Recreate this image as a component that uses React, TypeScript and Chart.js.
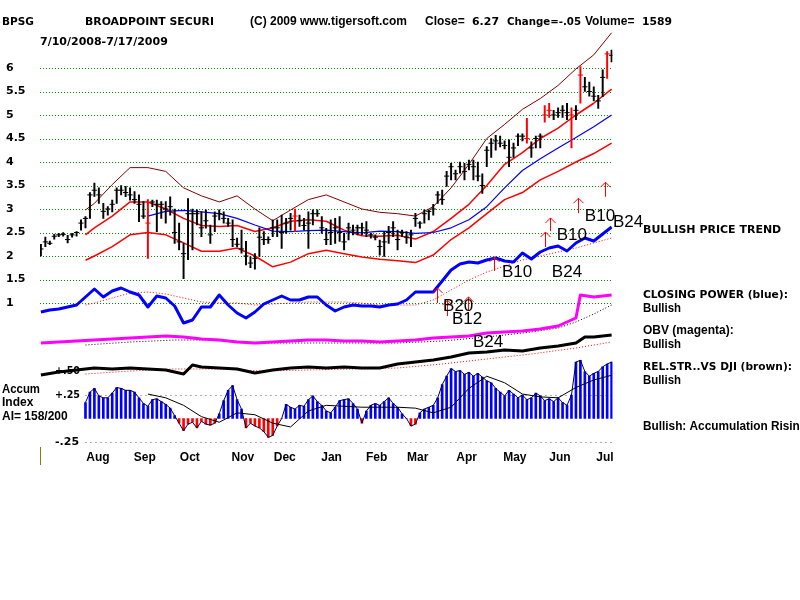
import { useEffect, useRef } from "react";
import { Chart, registerables } from "chart.js";

Chart.register(...registerables);

// ---- Price bars: every second session, 7/10/2008 - 7/17/2009 ----
const highs = [
  2.25, 2.4, 2.32, 2.46, 2.48, 2.5, 2.44, 2.48, 2.52, 2.77,
  2.84, 3.35, 3.55, 3.45, 3.12, 3.05, 3.19, 3.45, 3.5, 3.48,
  3.45, 3.37, 3.3, 3.16, 3.2, 3.19, 3.19, 3.16, 3.16, 3.26,
  3.0, 2.7, 2.27, 3.22, 3.0, 2.98, 2.94, 2.98, 2.66, 2.94,
  2.98, 2.94, 2.8, 2.77, 2.38, 2.55, 2.31, 1.98, 2.05, 2.6,
  2.52, 2.41, 2.77, 2.77, 2.87, 2.8, 2.91, 3.0, 2.87, 2.8,
  2.94, 2.98, 2.98, 2.84, 2.59, 2.77, 2.8, 2.84, 2.48, 2.7,
  2.66, 2.66, 2.7, 2.73, 2.48, 2.45, 2.34, 2.52, 2.63, 2.73,
  2.55, 2.55, 2.52, 2.55, 2.91, 2.73, 2.98, 2.98, 3.1, 3.37,
  3.4, 3.8, 3.97, 3.83, 4.0, 3.97, 4.04, 4.04, 4.0, 3.75,
  4.33, 4.5, 4.57, 4.55, 4.45, 4.47, 4.4, 4.6, 4.6, 4.93,
  4.43, 4.55, 4.6, 5.2, 5.25, 5.1, 5.15, 5.2, 5.25, 5.15,
  5.2, 6.03, 5.8, 5.7, 5.6, 5.42, 5.96, 6.35, 6.38,
];
const lows = [
  2.0, 2.2, 2.24, 2.36, 2.41, 2.42, 2.28, 2.4, 2.42, 2.55,
  2.6, 2.8, 3.27, 3.12, 2.8, 2.87, 2.94, 3.12, 3.3, 3.26,
  3.19, 3.12, 2.73, 2.8, 1.95, 3.05, 2.52, 2.8, 2.7, 2.87,
  2.27, 2.13, 1.52, 1.92, 2.13, 2.66, 2.41, 2.59, 2.27, 2.52,
  2.77, 2.7, 2.63, 2.2, 2.2, 2.06, 1.81, 1.75, 1.72, 1.99,
  2.24, 2.27, 2.41, 2.41, 2.16, 2.48, 2.55, 2.52, 2.63, 2.55,
  2.16, 2.66, 2.84, 2.48, 2.24, 2.24, 2.27, 2.31, 2.13, 2.34,
  2.45, 2.45, 2.45, 2.41, 2.38, 2.34, 2.02, 1.99, 2.27, 2.41,
  2.13, 2.41, 2.27, 2.2, 2.63, 2.59, 2.7, 2.77, 2.87, 3.12,
  3.1, 3.48, 3.62, 3.62, 3.76, 3.62, 3.83, 3.62, 3.6, 3.33,
  3.9, 4.1, 4.25, 4.32, 4.28, 3.9, 4.1, 4.35, 4.45, 4.4,
  4.1, 4.3, 4.3, 4.85, 4.95, 4.9, 4.95, 4.95, 4.9, 4.3,
  4.9, 5.25, 5.5, 5.4, 5.3, 5.14, 5.39, 5.78, 6.13,
];
const closes = [
  2.15, 2.3, 2.27, 2.42, 2.45, 2.46, 2.35, 2.45, 2.5, 2.7,
  2.8, 3.3, 3.4, 3.3, 2.95, 3.0, 3.1, 3.4, 3.4, 3.35,
  3.3, 3.2, 3.1, 2.85, 2.7, 3.15, 3.1, 3.1, 3.0, 3.05,
  2.5, 2.3, 2.05, 2.9, 2.9, 2.9, 2.6, 2.75, 2.45, 2.85,
  2.9, 2.8, 2.7, 2.35, 2.25, 2.15, 2.0, 1.85, 1.95, 2.4,
  2.35, 2.35, 2.6, 2.6, 2.5, 2.7, 2.8, 2.85, 2.75, 2.65,
  2.7, 2.9, 2.9, 2.6, 2.35, 2.5, 2.6, 2.5, 2.3, 2.6,
  2.55, 2.6, 2.6, 2.55, 2.45, 2.4, 2.2, 2.3, 2.5, 2.6,
  2.35, 2.5, 2.4, 2.45, 2.8, 2.7, 2.9, 2.95, 3.0, 3.3,
  3.2, 3.7, 3.9, 3.75, 3.9, 3.8, 3.95, 3.9, 3.7, 3.5,
  4.25, 4.4, 4.45, 4.4, 4.35, 4.1, 4.3, 4.55, 4.55, 4.5,
  4.3, 4.5, 4.55, 5.0, 5.1, 5.0, 5.05, 5.1, 5.05, 5.0,
  5.1, 5.85, 5.6, 5.5, 5.4, 5.3, 5.8, 6.3, 6.27,
];
const redBarDays = [24, 57, 109, 113, 114, 119, 121, 127];

// ---- Bands and moving averages (price units) ----
const bandDays = [10, 12, 16, 20, 24, 28, 32, 36, 40, 44, 48, 52, 56, 60, 64, 68, 72, 76, 80, 84, 88, 92, 96, 100, 104, 108, 112, 116, 120, 124, 128];
const upperBand = [2.98, 3.12, 3.52, 3.88, 3.88, 3.8, 3.45, 3.28, 3.15, 3.28, 3.0, 2.75, 2.98, 3.2, 3.3, 3.15, 3.0, 2.93, 2.9, 2.85, 3.05, 3.45, 3.95, 4.5, 4.8, 5.12, 5.35, 5.63, 5.98, 6.28, 6.75];
const middleBand = [2.45, 2.6, 2.85, 3.15, 3.15, 3.0, 2.8, 2.65, 2.63, 2.65, 2.52, 2.6, 2.74, 2.77, 2.74, 2.55, 2.43, 2.42, 2.44, 2.36, 2.52, 2.8, 3.1, 3.5, 3.95, 4.2, 4.5, 4.72, 5.0, 5.25, 5.55];
const lowerBand = [1.91, 2.0, 2.2, 2.45, 2.5, 2.45, 2.28, 2.1, 2.1, 2.17, 2.0, 1.77, 1.87, 2.05, 2.12, 2.05, 1.98, 1.93, 1.9, 1.86, 2.02, 2.35, 2.6, 2.9, 3.2, 3.35, 3.62, 3.8, 4.0, 4.18, 4.4];
const slowDays = [24, 28, 32, 36, 40, 44, 48, 52, 56, 60, 64, 68, 72, 76, 80, 84, 88, 92, 96, 100, 104, 108, 112, 116, 120, 124, 128];
const slowMA = [2.85, 2.95, 2.97, 2.94, 2.9, 2.8, 2.66, 2.53, 2.52, 2.54, 2.55, 2.52, 2.49, 2.53, 2.52, 2.48, 2.5, 2.6, 2.77, 3.05, 3.45, 3.82, 4.07, 4.3, 4.52, 4.75, 5.0];

// ---- Closing Power (index points, sampled every 2nd bar) ----
const closingPower = [
  18, 20, 21, 23, 25, 33, 41, 33, 39, 42, 38, 35, 23, 34, 32, 24, 7, 10, 23, 23,
  35, 25, 17, 12, 18, 26, 30, 34, 30, 30, 33, 33, 25, 19, 23, 25, 24, 24, 23, 25,
  26, 30, 38, 38, 38, 49, 60, 66, 68, 67, 70, 72, 69, 68, 77, 71, 78, 82, 84, 79,
  87, 92, 89, 96, 103,
];
const cpMaDays = bandDays;
const closingPowerMA = [25, 27, 32, 37, 38, 36, 32, 28, 27, 27, 25, 26, 27, 28, 28, 28, 27, 25, 25, 25, 30, 40, 50, 58, 64, 70, 74, 78, 82, 87, 92];

// ---- On-balance volume ----
const obvDays = [0, 4, 8, 12, 16, 20, 24, 28, 32, 36, 40, 44, 48, 52, 56, 60, 64, 68, 72, 76, 80, 84, 88, 92, 96, 100, 104, 108, 112, 116, 120, 121, 124, 128];
const obv = [7, 8, 9, 10, 11, 12, 13, 14, 13, 11, 10, 8, 7, 8, 9, 10, 10, 9, 9, 8, 9, 10, 12, 13, 14, 17, 18, 19, 21, 24, 32, 55, 53, 55];
const obvMaDays = [10, 20, 30, 40, 50, 60, 70, 80, 90, 100, 110, 116, 120, 124, 128];
const obvMA = [5, 8, 10, 10, 7, 7, 7, 7, 9, 13, 18, 22, 28, 36, 45];

// ---- Relative strength vs DJI ----
const rsDays = [0, 4, 8, 12, 16, 20, 24, 28, 30, 32, 34, 36, 40, 44, 48, 52, 56, 60, 64, 68, 72, 76, 80, 84, 88, 92, 96, 100, 104, 108, 112, 116, 120, 122, 124, 128];
const relStrength = [15, 18, 20, 22, 21, 22, 21, 20, 18, 16, 25, 23, 22, 21, 17, 20, 22, 23, 22, 23, 22, 22, 26, 28, 30, 33, 37, 38, 40, 39, 42, 44, 47, 53, 53, 55];
const rsMaDays = [10, 20, 30, 40, 50, 60, 70, 80, 90, 100, 110, 120, 128];
const relStrengthMA = [16, 19, 21, 21, 19, 20, 21, 22, 26, 31, 36, 42, 48];

// ---- Accumulation index (from bar 10) ----
const accumStart = 10;
const accumIndex = [
  0.17, 0.28, 0.32, 0.24, 0.22, 0.22, 0.27, 0.33, 0.32, 0.30,
  0.30, 0.28, 0.22, 0.16, 0.13, 0.20, 0.21, 0.18, 0.15, 0.11,
  0.03, -0.05, -0.13, -0.06, -0.04, -0.10, -0.03, -0.06, -0.07, -0.05,
  0.05, 0.19, 0.30, 0.35, 0.20, 0.10, -0.10, -0.05, -0.08, -0.10,
  -0.14, -0.20, -0.18, -0.08, 0.0, 0.15, 0.12, 0.10, 0.14, 0.13,
  0.20, 0.24, 0.18, 0.14, 0.08, 0.06, 0.12, 0.19, 0.20, 0.21,
  0.16, 0.10, -0.05, 0.08, 0.14, 0.16, 0.14, 0.18, 0.22, 0.16,
  0.12, 0.05, 0.0, -0.08, -0.06, 0.06, 0.10, 0.12, 0.14, 0.22,
  0.36, 0.45, 0.53, 0.50, 0.51, 0.47, 0.49, 0.45, 0.48, 0.44,
  0.40, 0.38, 0.32, 0.28, 0.24, 0.30, 0.26, 0.22, 0.25, 0.20,
  0.22, 0.27, 0.24, 0.19, 0.21, 0.18, 0.22, 0.17, 0.14, 0.25,
  0.60, 0.62, 0.50, 0.45, 0.48, 0.50, 0.55, 0.58, 0.60,
];
const accumMaDays = slowDays;
const accumMA = [0.26, 0.22, 0.14, 0.02, -0.04, 0.06, 0.04, -0.05, -0.09, 0.08, 0.14, 0.13, 0.12, 0.12, 0.12, 0.11, 0.06, 0.12, 0.32, 0.45, 0.38, 0.26, 0.23, 0.22, 0.33, 0.41, 0.46];

// ---- Axis ticks ----
const priceTicks = [6, 5.5, 5, 4.5, 4, 3.5, 3, 2.5, 2, 1.5, 1];
const accumTickValues = [0.5, 0.25, -0.25];
const accumTickLabels = ["+.50", "+.25", "-.25"];
const accumGridValues = [0.25, -0.25];
const monthDays = [12.8, 23.3, 33.4, 45.3, 54.7, 65.2, 75.3, 84.5, 95.5, 106.3, 116.4, 126.5];
const monthLabels = ["Aug", "Sep", "Oct", "Nov", "Dec", "Jan", "Feb", "Mar", "Apr", "May", "Jun", "Jul"];

// ---- Buy signals (bar, price level) ----
const arrowDays = [88.8, 91.1, 95.8, 101.6, 113.1, 114.2, 120.5, 126.5];
const arrowBase = [1.0, 0.72, 0.85, 1.68, 2.19, 2.53, 2.91, 3.26];
const arrowTip = [1.32, 1.06, 1.13, 1.98, 2.51, 2.81, 3.23, 3.57];
const signalLabels = ["B20", "B12", "B24", "B10", "B24", "B10", "B10", "B24"];
const signalDays = [90.2, 92.2, 96.9, 103.4, 114.6, 115.7, 122.0, 128.3];
const signalLevels = [0.94, 0.66, 0.17, 1.66, 1.66, 2.43, 2.85, 2.72];

// Wide bold face for capitals and figures, narrower bold face for mixed-case words
const WIDE = 'bold 11px "DejaVu Sans", Verdana, sans-serif';
const NARROW = 'bold 12px "Liberation Sans", Arial, sans-serif';
const SIG_FONT = '17px "Liberation Sans", Arial, sans-serif';

const pts = (days: number[], vals: number[]) => days.map((d, i) => ({ x: d, y: vals[i] }));

// text, left x, middle y, widest allowed run, face
type Caption = [string, number, number, number, string];

const tigerDecor = {
  id: "tigerDecor",
  beforeDatasetsDraw(chart: any) {
    const { ctx, chartArea } = chart;
    const xS = chart.scales.x;
    const yP = chart.scales.price;
    const yA = chart.scales.accum;
    ctx.save();
    ctx.lineWidth = 1;
    ctx.strokeStyle = "#009000";
    ctx.setLineDash([1, 2]);
    for (const v of priceTicks) {
      const y = Math.round(yP.getPixelForValue(v)) + 0.5;
      ctx.beginPath();
      ctx.moveTo(chartArea.left, y);
      ctx.lineTo(chartArea.right, y);
      ctx.stroke();
    }
    ctx.strokeStyle = "#606060";
    ctx.setLineDash([1, 4]);
    const ax0 = xS.getPixelForValue(accumStart);
    for (const v of accumGridValues) {
      const y = Math.round(yA.getPixelForValue(v)) + 0.5;
      ctx.beginPath();
      ctx.moveTo(ax0, y);
      ctx.lineTo(chartArea.right, y);
      ctx.stroke();
    }
    ctx.setLineDash([]);
    ctx.font = WIDE;
    ctx.fillStyle = "#000";
    ctx.textAlign = "left";
    ctx.textBaseline = "middle";
    for (const v of priceTicks) ctx.fillText(String(v), 6, yP.getPixelForValue(v));
    accumTickLabels.forEach((t, i) => ctx.fillText(t, 55, yA.getPixelForValue(accumTickValues[i]), 25));
    ctx.restore();
  },
  afterDatasetsDraw(chart: any) {
    const { ctx } = chart;
    const xS = chart.scales.x;
    const yP = chart.scales.price;
    ctx.save();
    ctx.strokeStyle = "#ff0000";
    ctx.lineWidth = 1;
    arrowDays.forEach((d, i) => {
      const x = Math.round(xS.getPixelForValue(d)) + 0.5;
      const yb = yP.getPixelForValue(arrowBase[i]);
      const yt = yP.getPixelForValue(arrowTip[i]);
      ctx.beginPath();
      ctx.moveTo(x, yb);
      ctx.lineTo(x, yt);
      ctx.moveTo(x - 5, yt + 5);
      ctx.lineTo(x, yt);
      ctx.lineTo(x + 5, yt + 5);
      ctx.stroke();
    });
    ctx.font = SIG_FONT;
    ctx.fillStyle = "#000";
    ctx.textAlign = "left";
    ctx.textBaseline = "middle";
    signalLabels.forEach((t, i) => {
      ctx.fillText(t, xS.getPixelForValue(signalDays[i]), yP.getPixelForValue(signalLevels[i]));
    });
    ctx.restore();
  },
  afterDraw(chart: any) {
    const { ctx, chartArea } = chart;
    const xS = chart.scales.x;
    ctx.save();
    ctx.fillStyle = "#000";
    ctx.textAlign = "left";
    ctx.textBaseline = "middle";
    const captions: Caption[] = [
      ["BPSG", 2, 22, 32, WIDE],
      ["BROADPOINT SECURI", 85, 22, 129, WIDE],
      ["(C) 2009 www.tigersoft.com", 250, 22, 158, NARROW],
      ["Close=", 425, 22, 41, NARROW],
      [closes[closes.length - 1].toFixed(2), 472, 22, 27, WIDE],
      ["Change=-.05", 507, 22, 74, WIDE],
      ["Volume=", 585, 22, 53, NARROW],
      ["1589", 642, 22, 30, WIDE],
      ["7/10/2008-7/17/2009", 40, 42, 128, WIDE],
      ["Accum", 2, 390, 38, NARROW],
      ["Index", 2, 403, 32, NARROW],
      ["AI= 158/200", 2, 417, 71, NARROW],
      ["BULLISH PRICE TREND", 643, 230, 140, WIDE],
      ["CLOSING POWER (blue):", 643, 295, 145, WIDE],
      ["Bullish", 643, 309, 38, NARROW],
      ["OBV (magenta):", 643, 331, 94, NARROW],
      ["Bullish", 643, 345, 38, NARROW],
      ["REL.STR..VS DJI (brown):", 643, 367, 149, WIDE],
      ["Bullish", 643, 381, 38, NARROW],
      ["Bullish: Accumulation Rising", 643, 427, 164, NARROW],
    ];
    for (const [t, x, y, w, f] of captions) {
      ctx.font = f;
      ctx.fillText(t, x, y, w);
    }
    ctx.font = NARROW;
    ctx.textAlign = "center";
    monthLabels.forEach((m, i) => ctx.fillText(m, xS.getPixelForValue(monthDays[i]), chartArea.bottom - 12, 24));
    ctx.strokeStyle = "#808000";
    ctx.lineWidth = 1;
    ctx.beginPath();
    ctx.moveTo(chartArea.left + 0.5, chartArea.bottom - 23);
    ctx.lineTo(chartArea.left + 0.5, chartArea.bottom - 5);
    ctx.stroke();
    ctx.restore();
  },
};

export default function App() {
  const ref = useRef<HTMLCanvasElement | null>(null);

  useEffect(() => {
    const canvas = ref.current;
    if (!canvas) return;
    const barColors = closes.map((_, i) => (redBarDays.includes(i) ? "#ff0000" : "#000000"));
    const line = (data: any[], axis: string, color: string, width: number, order: number, dash: number[] = []) => ({
      type: "line" as const,
      data,
      yAxisID: axis,
      borderColor: color,
      borderWidth: width,
      borderDash: dash,
      pointRadius: 0,
      tension: 0,
      fill: false,
      order,
      borderJoinStyle: "round" as const,
    });

    const chart = new Chart(canvas, {
      type: "line",
      data: {
        datasets: [
          line(pts(bandDays, upperBand), "price", "#800000", 1, 20),
          line(pts(bandDays, middleBand), "price", "#ff0000", 1.5, 19),
          line(pts(bandDays, lowerBand), "price", "#ff0000", 1.5, 18),
          line(pts(slowDays, slowMA), "price", "#0000ff", 1.2, 17),
          {
            type: "bar",
            data: highs.map((h, i) => ({ x: i, y: [lows[i], h] })),
            yAxisID: "price",
            backgroundColor: barColors,
            borderWidth: 0,
            barThickness: 1.3,
            grouped: false,
            order: 10,
          } as any,
          {
            type: "scatter",
            data: closes.map((c, i) => ({ x: i, y: c })),
            yAxisID: "price",
            pointStyle: "line",
            pointRadius: 2.6,
            pointBorderWidth: 1,
            pointBorderColor: barColors,
            borderColor: barColors,
            showLine: false,
            order: 9,
          } as any,
          line(pts(cpMaDays, closingPowerMA), "cp", "#ff0000", 1, 8, [1, 2]),
          line(closingPower.map((v, i) => ({ x: i * 2, y: v })), "cp", "#0000ff", 3, 7),
          line(pts(obvMaDays, obvMA), "obv", "#000000", 1, 6, [1, 2]),
          line(pts(obvDays, obv), "obv", "#ff00ff", 3, 5),
          line(pts(rsMaDays, relStrengthMA), "rs", "#ff0000", 1, 4, [1, 2]),
          line(pts(rsDays, relStrength), "rs", "#000000", 3, 3),
          {
            type: "bar",
            data: accumIndex.map((v, i) => ({ x: accumStart + i, y: v })),
            yAxisID: "accum",
            backgroundColor: accumIndex.map((v) => (v >= 0 ? "#0000ff" : "#ff0000")),
            borderWidth: 0,
            barThickness: 2,
            grouped: false,
            order: 2,
          } as any,
          line(accumIndex.map((v, i) => ({ x: accumStart + i, y: v })), "accum", "#000040", 1, 1),
          line(pts(accumMaDays, accumMA), "accum", "#000000", 1, 0),
        ] as any,
      },
      options: {
        responsive: false,
        devicePixelRatio: 1,
        animation: false,
        events: [],
        layout: { padding: { left: 40, right: 187.5, top: 20, bottom: 130 } },
        plugins: { legend: { display: false }, tooltip: { enabled: false }, title: { display: false } },
        scales: {
          x: { type: "linear", min: -0.2, max: 128.2, display: false, offset: false },
          price: { type: "linear", axis: "y", position: "left", min: -2.5532, max: 7.0213, display: false },
          cp: { type: "linear", axis: "y", position: "left", min: -140, max: 310, display: false },
          obv: { type: "linear", axis: "y", position: "left", min: -120, max: 330, display: false },
          rs: { type: "linear", axis: "y", position: "left", min: -80, max: 370, display: false },
          accum: { type: "linear", axis: "y", position: "left", min: -0.5479, max: 4.2394, display: false },
        } as any,
      },
      plugins: [tigerDecor],
    });
    return () => chart.destroy();
  }, []);

  return (
    <div style={{ position: "absolute", left: 0, top: 0, width: 800, height: 600, background: "#ffffff" }}>
      <canvas ref={ref} width={800} height={600} style={{ display: "block", width: 800, height: 600 }} />
    </div>
  );
}
